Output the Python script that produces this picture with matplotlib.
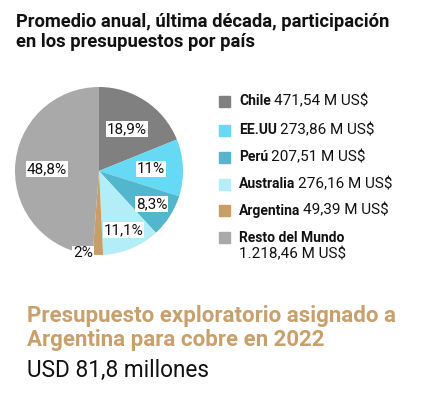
import numpy as np
import matplotlib.pyplot as plt
from matplotlib.patches import Rectangle

# Datos
paises = ['Chile', 'EE.UU', 'Perú', 'Australia', 'Argentina', 'Resto del Mundo']
montos = [471.54, 273.86, 207.51, 276.16, 49.39, 1218.46]  # M US$
montos_txt = ['471,54 M US$', '273,86 M US$', '207,51 M US$', '276,16 M US$',
              '49,39 M US$', '1.218,46 M US$']
porcentajes = ['18,9%', '11%', '8,3%', '11,1%', '2%', '48,8%']
colores = ['#808080', '#66D9F5', '#52B6CC', '#B3EEF8', '#C99C68', '#A9A9A9']

W, H = 422, 393
plt.rcParams['font.family'] = ['Roboto', 'DejaVu Sans']
fig = plt.figure(figsize=(W / 100, H / 100), dpi=100)


def fx(px):
    return px / W


def fy(py):
    return 1 - py / H


# Titulo
fig.text(fx(16), fy(13), 'Promedio anual, última década, participación\nen los presupuestos por país',
         fontsize=13.2, fontweight='bold', color='#111111', va='top', linespacing=1.15)

# Torta
ax = fig.add_axes([fx(15), fy(255), 168 / W, 168 / H])
wedges, _ = ax.pie(montos, colors=colores, startangle=90, counterclock=False,
                   radius=1, wedgeprops=dict(linewidth=0))
ax.set_xlim(-1, 1)
ax.set_ylim(-1, 1)
ax.set_aspect('equal')
ax.axis('off')

radios = [0.6, 0.62, 0.74, 0.76, 1.0, 0.62]
for w, pct, r in zip(wedges, porcentajes, radios):
    ang = np.deg2rad((w.theta1 + w.theta2) / 2)
    if pct == '2%':
        ang = np.deg2rad(-101)
    ax.text(r * np.cos(ang), r * np.sin(ang), pct, ha='center', va='center',
            fontsize=11, color='#111111',
            bbox=dict(boxstyle='square,pad=0.06', fc='white', ec='none'))

# Leyenda manual
ys = [101, 130, 157.5, 184, 210.5, 237.5]
fig.canvas.draw()
renderer = fig.canvas.get_renderer()
for p, m, c, y in zip(paises, montos_txt, colores, ys):
    fig.patches.append(Rectangle((fx(219), fy(y + 5.5)), 11 / W, 11 / H, color=c,
                                 transform=fig.transFigure, figure=fig))
    t = fig.text(fx(239), fy(y), p, fontsize=10, fontweight='bold', color='#111111', va='center')
    if p == 'Resto del Mundo':
        fig.text(fx(239), fy(y + 17), m, fontsize=11, color='#111111', va='center')
    else:
        bb = t.get_window_extent(renderer)
        fig.text(fx(bb.x1 + 3), fy(y), m, fontsize=11, color='#111111', va='center')

# Texto inferior
fig.text(fx(27), fy(305), 'Presupuesto exploratorio asignado a\nArgentina para cobre en 2022',
         fontsize=16, fontweight='bold', color='#C9A06C', va='top', linespacing=1.12)
fig.text(fx(27), fy(377), 'USD 81,8 millones', fontsize=16.3, color='#111111', va='baseline')

fig.savefig('out.png', dpi=100)
